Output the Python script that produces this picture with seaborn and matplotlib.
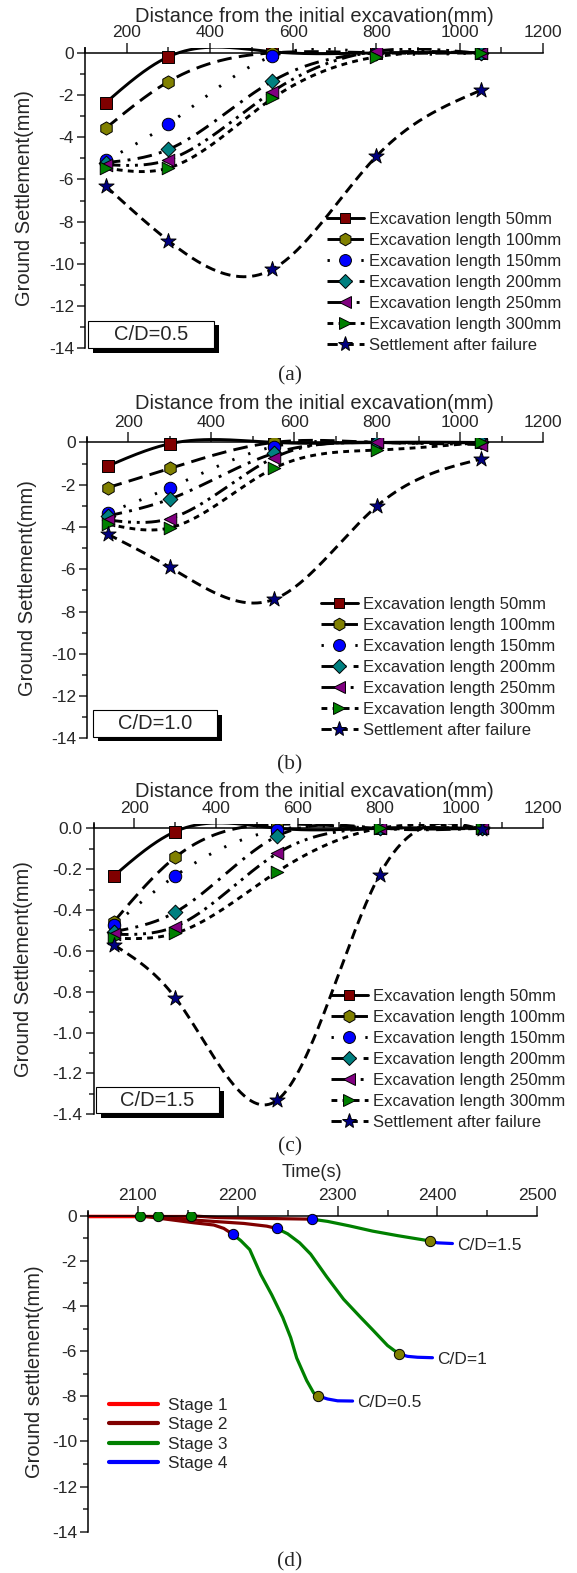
import numpy as np
import matplotlib
matplotlib.use("Agg")
import matplotlib.pyplot as plt
import seaborn as sns
from matplotlib.lines import Line2D
from matplotlib.patches import Rectangle
from matplotlib.ticker import MultipleLocator, FormatStrFormatter

# ---------------- data ----------------
distance = [150, 300, 550, 800, 1050]
series_labels = ["Excavation length 50mm", "Excavation length 100mm",
                 "Excavation length 150mm", "Excavation length 200mm",
                 "Excavation length 250mm", "Excavation length 300mm",
                 "Settlement after failure"]

# C/D = 0.5
a_50 = [-2.36, -0.19, 0.05, 0.0, 0.0]
a_100 = [-3.57, -1.37, 0.0, 0.0, 0.0]
a_150 = [-5.10, -3.37, -0.16, 0.0, 0.0]
a_200 = [-5.20, -4.58, -1.34, 0.0, 0.0]
a_250 = [-5.30, -5.07, -1.84, 0.08, -0.03]
a_300 = [-5.46, -5.46, -2.16, -0.19, 0.0]
a_fail = [-6.32, -8.90, -10.26, -4.90, -1.78]

# C/D = 1.0
b_50 = [-1.12, -0.06, 0.0, 0.0, 0.0]
b_100 = [-2.14, -1.23, 0.0, 0.0, 0.0]
b_150 = [-3.33, -2.14, -0.20, 0.0, 0.0]
b_200 = [-3.48, -2.68, -0.52, 0.0, 0.0]
b_250 = [-3.67, -3.60, -0.73, 0.0, -0.10]
b_300 = [-3.86, -4.04, -1.23, -0.36, 0.0]
b_fail = [-4.34, -5.91, -7.43, -3.00, -0.79]

# C/D = 1.5
c_50 = [-0.233, -0.016, 0.0, 0.0, 0.0]
c_100 = [-0.457, -0.142, 0.02, 0.0, 0.0]
c_150 = [-0.473, -0.233, -0.008, 0.0, 0.0]
c_200 = [-0.506, -0.411, -0.038, 0.0, 0.0]
c_250 = [-0.519, -0.481, -0.122, 0.0, 0.0]
c_300 = [-0.538, -0.514, -0.212, 0.0, 0.0]
c_fail = [-0.571, -0.829, -1.330, -0.228, -0.005]

# (d) time histories
d_case_labels = ["C/D=0.5", "C/D=1", "C/D=1.5"]
d_stage_labels = ["Stage 1", "Stage 2", "Stage 3", "Stage 4"]
d_start_time = 2050

d05_s2_t = [2102, 2123, 2156, 2176, 2186, 2195]
d05_s2_v = [0.0, -0.12, -0.31, -0.41, -0.56, -0.82]
d05_s3_t = [2195, 2203, 2212, 2223, 2234, 2245, 2253, 2259, 2263, 2269, 2276, 2280]
d05_s3_v = [-0.82, -1.10, -1.50, -2.60, -3.50, -4.50, -5.40, -6.30, -6.70, -7.30, -7.85, -7.98]
d05_s4_t = [2280, 2290, 2300, 2315]
d05_s4_v = [-7.98, -8.12, -8.20, -8.21]

d10_s2_t = [2120, 2156, 2206, 2229, 2239]
d10_s2_v = [0.0, -0.19, -0.34, -0.46, -0.56]
d10_s3_t = [2239, 2250, 2262, 2273, 2289, 2306, 2323, 2335, 2350, 2361]
d10_s3_v = [-0.56, -0.80, -1.20, -1.70, -2.70, -3.70, -4.50, -5.05, -5.75, -6.11]
d10_s4_t = [2361, 2370, 2380, 2395]
d10_s4_v = [-6.11, -6.23, -6.27, -6.29]

d15_s2_t = [2153, 2180, 2230, 2274]
d15_s2_v = [0.0, -0.08, -0.12, -0.15]
d15_s3_t = [2274, 2290, 2312, 2335, 2360, 2393]
d15_s3_v = [-0.15, -0.25, -0.45, -0.68, -0.88, -1.12]
d15_s4_t = [2393, 2400, 2415]
d15_s4_v = [-1.12, -1.20, -1.23]

# ---------------- style ----------------
sns.set_style("white")
plt.rcParams["font.family"] = ["Liberation Sans", "DejaVu Sans"]
plt.rcParams["axes.unicode_minus"] = False

W, H = 577, 1573
fig = plt.figure(figsize=(W / 100, H / 100), dpi=100)


def rect(l, r, t, b):
    return [l / W, 1 - b / H, (r - l) / W, (b - t) / H]


def natural_spline(x, y, n=300):
    x = np.asarray(x, float)
    y = np.asarray(y, float)
    k = len(x)
    h = np.diff(x)
    A = np.zeros((k, k))
    r = np.zeros(k)
    A[0, 0] = A[-1, -1] = 1
    for i in range(1, k - 1):
        A[i, i - 1] = h[i - 1]
        A[i, i] = 2 * (h[i - 1] + h[i])
        A[i, i + 1] = h[i]
        r[i] = 6 * ((y[i + 1] - y[i]) / h[i] - (y[i] - y[i - 1]) / h[i - 1])
    M = np.linalg.solve(A, r)
    xs = np.linspace(x[0], x[-1], n)
    idx = np.clip(np.searchsorted(x, xs) - 1, 0, k - 2)
    x0, x1 = x[idx], x[idx + 1]
    hh = x1 - x0
    a = (x1 - xs) / hh
    b = (xs - x0) / hh
    ys = a * y[idx] + b * y[idx + 1] + ((a ** 3 - a) * M[idx] + (b ** 3 - b) * M[idx + 1]) * hh ** 2 / 6
    return xs, ys


LW = 2.1
line_styles = ["-", (0, (5, 2.5)), (0, (0.8, 5)), (0, (5, 2.5, 1, 2.5)),
               (0, (5, 2, 1, 2, 1, 2)), (0, (2, 1.8)), (0, (3.5, 2))]
marker_list = ["s", "h", "o", "D", "<", ">", "*"]
marker_colors = ["#800000", "#808000", "#0000FF", "#008080", "#800080", "#008000", "#000080"]
marker_sizes = [8, 9.5, 9, 7.5, 9, 9, 11.5]

FS_TICK = 12.5
FS_LAB = 14.5
FS_LEG = 12


def style_axes(ax, ylim, ymajor, yminor, xlim, xmajor, xminor, yfmt=None):
    ax.set_xlim(*xlim)
    ax.set_ylim(*ylim)
    for s in ["right", "bottom"]:
        ax.spines[s].set_visible(False)
    ax.spines["top"].set_position(("data", 0))
    for s in ["top", "left"]:
        ax.spines[s].set_linewidth(1.1)
        ax.spines[s].set_color("black")
    ax.xaxis.set_ticks_position("top")
    ax.xaxis.set_major_locator(MultipleLocator(xmajor))
    ax.xaxis.set_minor_locator(MultipleLocator(xminor))
    ax.yaxis.set_major_locator(MultipleLocator(ymajor))
    ax.yaxis.set_minor_locator(MultipleLocator(yminor))
    if yfmt:
        ax.yaxis.set_major_formatter(FormatStrFormatter(yfmt))
    ax.tick_params(axis="x", which="major", direction="out", length=7, width=1.1,
                   labelsize=FS_TICK, pad=2, top=True, bottom=False,
                   labeltop=True, labelbottom=False)
    ax.tick_params(axis="x", which="minor", direction="out", length=4, width=1.1,
                   top=True, bottom=False)
    ax.tick_params(axis="y", which="major", direction="out", length=6, width=1.1,
                   labelsize=FS_TICK, pad=2, left=True)
    ax.tick_params(axis="y", which="minor", direction="out", length=3.5, width=1.1, left=True)
    ax.set_xlabel("")
    ax.set_ylabel("")
    ax.set_facecolor("white")
    ax.grid(False)


def cd_box(l, t, r, b, text):
    shadow = Rectangle(((l + 5) / W, 1 - (b + 4.5) / H), (r - l) / W, (b - t) / H,
                       transform=fig.transFigure, facecolor="black", edgecolor="none", zorder=5)
    box = Rectangle((l / W, 1 - b / H), (r - l) / W, (b - t) / H,
                    transform=fig.transFigure, facecolor="white", edgecolor="black",
                    linewidth=0.8, zorder=6)
    fig.patches.extend([shadow, box])
    fig.text((l + r) / 2 / W, 1 - (t + b) / 2 / H, text, ha="center", va="center",
             fontsize=14.5, zorder=7)


def profile_panel(axrect, series, ylim, ymajor, yminor, yfmt, leg_x, leg_top,
                  title_y, ylab_x, box, box_text, caption, caption_y):
    ax = fig.add_axes(axrect)
    for i, vals in enumerate(series):
        xs, ys = natural_spline(distance, vals)
        sns.lineplot(x=xs, y=ys, ax=ax, color="black", linewidth=LW,
                     linestyle=line_styles[i], sort=False, estimator=None,
                     legend=False, zorder=2 + i * 0.01)
    for i, vals in enumerate(series):
        sns.scatterplot(x=distance, y=vals, ax=ax, marker=marker_list[i],
                        color=marker_colors[i], edgecolor="black", linewidth=0.7,
                        s=marker_sizes[i] ** 2, legend=False, zorder=4 + i * 0.01)
    style_axes(ax, ylim, ymajor, yminor, (100, 1200), 200, 100, yfmt)
    handles = [Line2D([], [], color="black", lw=LW, linestyle=line_styles[i],
                      marker=marker_list[i], markerfacecolor=marker_colors[i],
                      markeredgecolor="black", markeredgewidth=0.7,
                      markersize=marker_sizes[i] * 0.95)
               for i in range(len(series))]
    ax.legend(handles, series_labels, loc="upper left",
              bbox_to_anchor=(leg_x / W, 1 - leg_top / H), bbox_transform=fig.transFigure,
              frameon=False, fontsize=FS_LEG, handlelength=2.2, handletextpad=0.33,
              labelspacing=0.36, borderpad=0, borderaxespad=0)
    fig.text(314 / W, 1 - title_y / H, "Distance from the initial excavation(mm)",
             ha="center", va="center", fontsize=FS_LAB)
    axpos = ax.get_position()
    fig.text(ylab_x / W, axpos.y0 + axpos.height / 2, "Ground Settlement(mm)",
             rotation=90, ha="center", va="center", fontsize=FS_LAB)
    cd_box(*box, box_text)
    fig.text(290 / W, 1 - caption_y / H, caption, ha="center", va="center",
             fontsize=15.5, family="Liberation Serif")
    return ax


profile_panel(rect(85, 543, 48.2, 348.3),
              [a_50, a_100, a_150, a_200, a_250, a_300, a_fail],
              (-14, 0.22), 2, 1, None, 327, 212, 16.8, 24.6,
              (88.3, 320.7, 214, 348.3), "C/D=0.5", "(a)", 375.6)
profile_panel(rect(87, 543, 437.8, 738.3),
              [b_50, b_100, b_150, b_200, b_250, b_300, b_fail],
              (-14, 0.22), 2, 1, None, 321, 597, 403.3, 27.6,
              (92.6, 710, 217, 736.7), "C/D=1.0", "(b)", 765)
profile_panel(rect(93.5, 543, 823.8, 1114.3),
              [c_50, c_100, c_150, c_200, c_250, c_300, c_fail],
              (-1.4, 0.022), 0.2, 0.1, "%.1f", 331, 989, 791.7, 24,
              (96.3, 1086.7, 218.8, 1113.3), "C/D=1.5", "(c)", 1146.7)

# ---------------- panel (d) ----------------
axd = fig.add_axes(rect(88, 537.3, 1211.7, 1531.7))
stage_colors = ["#FF0000", "#800000", "#008000", "#0000FF"]
cases = [
    (d05_s2_t, d05_s2_v, d05_s3_t, d05_s3_v, d05_s4_t, d05_s4_v),
    (d10_s2_t, d10_s2_v, d10_s3_t, d10_s3_v, d10_s4_t, d10_s4_v),
    (d15_s2_t, d15_s2_v, d15_s3_t, d15_s3_v, d15_s4_t, d15_s4_v),
]
for s2t, s2v, s3t, s3v, s4t, s4v in cases:
    sns.lineplot(x=[d_start_time, s2t[0]], y=[0.0, s2v[0]], ax=axd,
                 color=stage_colors[0], linewidth=2.3, sort=False, estimator=None, legend=False)
for s2t, s2v, s3t, s3v, s4t, s4v in cases:
    sns.lineplot(x=s2t, y=s2v, ax=axd, color=stage_colors[1], linewidth=2.3,
                 sort=False, estimator=None, legend=False)
    sns.lineplot(x=s3t, y=s3v, ax=axd, color=stage_colors[2], linewidth=2.3,
                 sort=False, estimator=None, legend=False)
    sns.lineplot(x=s4t, y=s4v, ax=axd, color=stage_colors[3], linewidth=2.3,
                 sort=False, estimator=None, legend=False)
for (s2t, s2v, s3t, s3v, s4t, s4v), lab in zip(cases, d_case_labels):
    sns.scatterplot(x=[s2t[0]], y=[s2v[0]], ax=axd, color="#008000", edgecolor="black",
                    linewidth=0.7, s=55, legend=False, zorder=5)
    sns.scatterplot(x=[s3t[0]], y=[s3v[0]], ax=axd, color="#0000FF", edgecolor="black",
                    linewidth=0.7, s=55, legend=False, zorder=5)
    sns.scatterplot(x=[s4t[0]], y=[s4v[0]], ax=axd, color="#808000", edgecolor="black",
                    linewidth=0.7, s=55, legend=False, zorder=5)
    axd.text(s4t[-1] + 5, s4v[-1] - 0.08, lab, ha="left", va="center", fontsize=12.5)

style_axes(axd, (-14, 0.18), 2, 1, (2050, 2500), 100, 50)
dh = [Line2D([], [], color=c, lw=3) for c in stage_colors]
axd.legend(dh, d_stage_labels, loc="upper left",
           bbox_to_anchor=(108.5 / W, 1 - 1398 / H), bbox_transform=fig.transFigure,
           frameon=False, fontsize=12.4, handlelength=2.85, handletextpad=0.6,
           labelspacing=0.25, borderpad=0, borderaxespad=0)
fig.text(312 / W, 1 - 1172.7 / H, "Time(s)", ha="center", va="center", fontsize=13)
pd_ = axd.get_position()
fig.text(35 / W, pd_.y0 + pd_.height / 2, "Ground settlement(mm)", rotation=90,
         ha="center", va="center", fontsize=FS_LAB)
fig.text(290 / W, 1 - 1561.7 / H, "(d)", ha="center", va="center", fontsize=15.5,
         family="Liberation Serif")

fig.savefig("out.png", dpi=100, facecolor="white")
